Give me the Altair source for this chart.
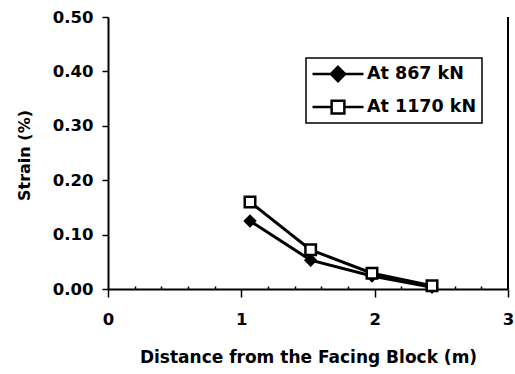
import altair as alt
import pandas as pd

# ---- data ----
distance = [1.065, 1.52, 1.98, 2.43]
strain_867 = [0.125, 0.053, 0.024, 0.003]
strain_1170 = [0.160, 0.072, 0.029, 0.006]
series_names = ["At 867 kN", "At 1170 kN"]
x_domain = [0, 3]
y_domain = [0, 0.5]
y_ticks = [0.0, 0.1, 0.2, 0.3, 0.4, 0.5]
x_ticks = [round(i * 0.2, 1) for i in range(16)]

rows = []
for name, vals in zip(series_names, [strain_867, strain_1170]):
    for d, s in zip(distance, vals):
        rows.append({"distance": d, "strain": s, "series": name})
df = pd.DataFrame(rows)

FONT = "DejaVu Sans"

x_enc = alt.X(
    "distance:Q",
    scale=alt.Scale(domain=x_domain, nice=False),
    axis=alt.Axis(
        values=x_ticks,
        labelExpr="datum.value % 1 === 0 ? format(datum.value, 'd') : ''",
        labelFlush=False,
        labelOverlap=False,
        tickSize=alt.ExprRef("datum.value % 1 === 0 ? 8 : -3"),
        labelPadding=14,
        title="Distance from the Facing Block (m)",
        titleX=200,
        titleY=68,
        titleAlign="center",
        titleBaseline="middle",
        titleFontSize=17,
    ),
)
y_enc = alt.Y(
    "strain:Q",
    scale=alt.Scale(domain=y_domain, nice=False),
    axis=alt.Axis(
        values=y_ticks,
        format=".2f",
        tickSize=6,
        labelPadding=9,
        title="Strain (%)",
        titleX=-84,
        titleY=138,
        titleAngle=-90,
        titleAlign="center",
        titleBaseline="middle",
        titleFontSize=16,
    ),
)

base = alt.Chart(df)

lines = base.mark_line(color="black", strokeWidth=3).encode(
    x=x_enc, y=y_enc, detail="series:N"
)

pts_867 = base.transform_filter(alt.datum.series == series_names[0]).mark_point(
    shape="diamond", filled=True, color="black", size=180, opacity=1
).encode(x=x_enc, y=y_enc)

pts_1170 = base.transform_filter(alt.datum.series == series_names[1]).mark_point(
    shape="square", filled=True, fill="white", stroke="black", strokeWidth=2.5,
    size=110, opacity=1
).encode(x=x_enc, y=y_enc)

path_diamond = "M-1,0L-0.28,0M0,-0.28L0.28,0L0,0.28L-0.28,0ZM0.28,0L1,0"
path_square = "M-1,0L-0.25,0M-0.25,-0.25L0.25,-0.25L0.25,0.25L-0.25,0.25ZM0.25,0L1,0"

legend_props = dict(
    title=None,
    orient="none",
    legendX=198,
    legendY=41,
    padding=5,
    fillColor="white",
    strokeColor="black",
    cornerRadius=0,
    clipHeight=22,
    rowPadding=11,
    labelOffset=2,
    symbolOffset=0,
    symbolSize=2601,
    symbolStrokeWidth=2.5,
    labelFont=FONT,
    labelFontSize=17.5,
    labelFontWeight="bold",
    labelColor="black",
    labelLimit=300,
)

legend_layer = base.transform_filter("false").mark_point(
    filled=True, strokeWidth=2.5, opacity=1
).encode(
    shape=alt.Shape(
        "series:N",
        scale=alt.Scale(domain=series_names, range=[path_diamond, path_square]),
        legend=alt.Legend(**legend_props),
    ),
    fill=alt.Fill(
        "series:N",
        scale=alt.Scale(domain=series_names, range=["black", "white"]),
        legend=alt.Legend(**legend_props),
    ),
    stroke=alt.Stroke(
        "series:N",
        scale=alt.Scale(domain=series_names, range=["black", "black"]),
        legend=alt.Legend(**legend_props),
    ),
)

# right-hand frame line of the plot area, at the end of the x domain
frame = pd.DataFrame({"distance": [x_domain[1]], "strain": [y_domain[0]],
                      "strain_top": [y_domain[1]]})
border = alt.Chart(frame).mark_rule(color="black", strokeWidth=2).encode(
    x=x_enc, y=y_enc, y2="strain_top:Q",
)

chart = (
    alt.layer(lines, pts_867, pts_1170, legend_layer, border)
    .properties(
        width=400,
        height=272,
        autosize=alt.AutoSizeParams(type="none"),
        padding={"left": 108, "top": 17, "right": 7, "bottom": 85},
        background="white",
    )
    .configure_view(stroke=None)
    .configure_axis(
        labelFont=FONT,
        labelFontSize=16.5,
        labelFontWeight="bold",
        labelColor="black",
        titleFont=FONT,
        titleFontWeight="bold",
        titleColor="black",
        domainColor="black",
        domainWidth=2,
        tickColor="black",
        tickWidth=1.5,
        grid=False,
    )
    .configure_legend(strokeWidth=1.5)
)

chart.save("out.html", embed_options={"renderer": "svg", "actions": False})
